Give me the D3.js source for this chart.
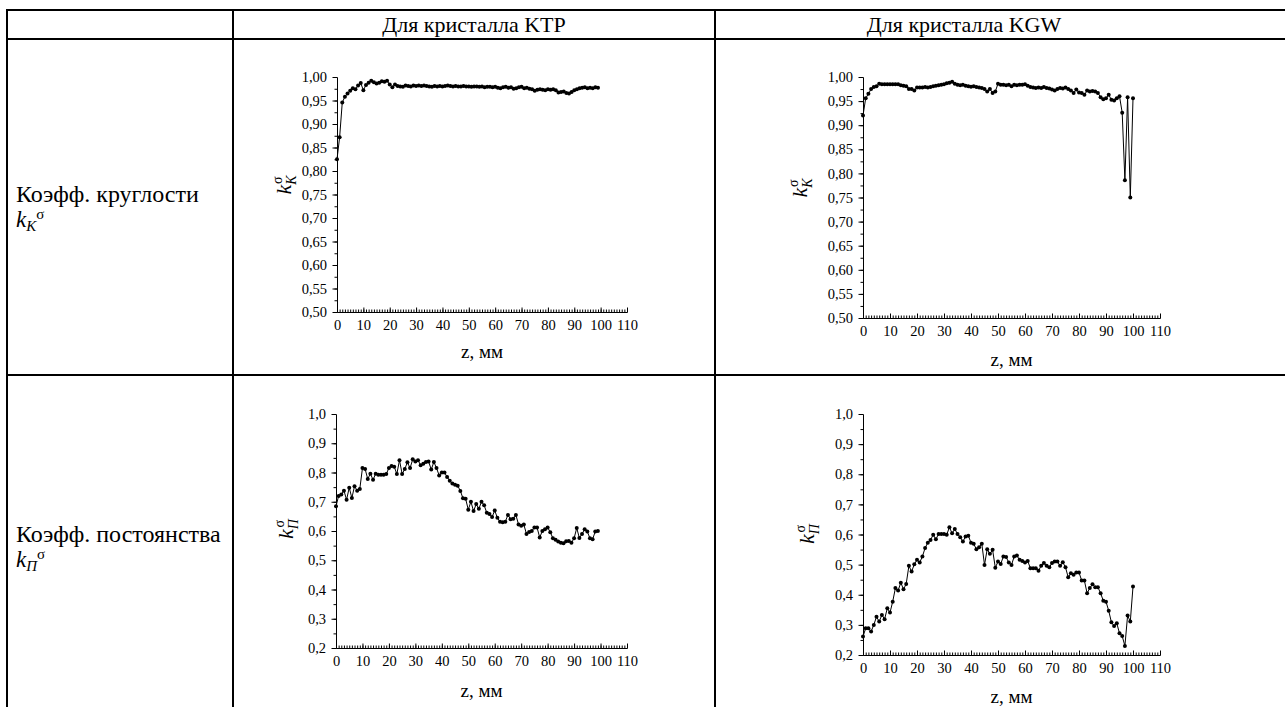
<!DOCTYPE html>
<html>
<head>
<meta charset="utf-8">
<script src="https://cdn.jsdelivr.net/npm/d3@7"></script>
<style>
  body { margin: 0; background: #fff; }
  svg { display: block; }
</style>
</head>
<body>
<script>
// ---- data ----
const columnTitles = ['Для кристалла KTP', 'Для кристалла KGW'];
const xTicks = [0, 10, 20, 30, 40, 50, 60, 70, 80, 90, 100, 110];

// sample grid: one point per mm
const zKTP = d3.range(0, 100);
const zKGW = d3.range(0, 101);

const kK_KTP = [
  0.825, 0.872, 0.946, 0.958, 0.965, 0.971, 0.976, 0.974, 0.982, 0.987,
  0.972, 0.983, 0.988, 0.992, 0.989, 0.986, 0.988, 0.991, 0.990, 0.992,
  0.984, 0.978, 0.984, 0.981, 0.980, 0.979, 0.982, 0.981, 0.980, 0.982,
  0.981, 0.982, 0.981, 0.982, 0.981, 0.980, 0.979, 0.981, 0.980, 0.981,
  0.980, 0.981, 0.982, 0.981, 0.980, 0.981, 0.980, 0.980, 0.981, 0.980,
  0.980, 0.979, 0.980, 0.980, 0.979, 0.980, 0.978, 0.979, 0.979, 0.978,
  0.979, 0.977, 0.976, 0.978, 0.979, 0.977, 0.978, 0.975, 0.976, 0.978,
  0.979, 0.976, 0.977, 0.975, 0.974, 0.971, 0.973, 0.974, 0.973, 0.972,
  0.974, 0.973, 0.974, 0.972, 0.967, 0.968, 0.969, 0.966, 0.965, 0.968,
  0.972, 0.974, 0.976, 0.977, 0.978, 0.976, 0.977, 0.976, 0.978, 0.977
];

const kK_KGW = [
  0.920, 0.956, 0.965, 0.975, 0.979, 0.981, 0.986, 0.985, 0.985, 0.985,
  0.985, 0.985, 0.985, 0.985, 0.983, 0.982, 0.981, 0.975, 0.975, 0.972,
  0.978, 0.978, 0.978, 0.979, 0.978, 0.979, 0.981, 0.982, 0.983, 0.984,
  0.985, 0.987, 0.988, 0.990, 0.986, 0.984, 0.983, 0.984, 0.982, 0.981,
  0.980, 0.981, 0.979, 0.978, 0.977, 0.975, 0.970, 0.975, 0.967, 0.970,
  0.986, 0.984, 0.984, 0.983, 0.984, 0.981, 0.984, 0.983, 0.984, 0.984,
  0.985, 0.982, 0.979, 0.978, 0.977, 0.978, 0.977, 0.979, 0.977, 0.976,
  0.974, 0.972, 0.975, 0.977, 0.976, 0.978, 0.975, 0.972, 0.967, 0.974,
  0.968, 0.967, 0.963, 0.972, 0.970, 0.971, 0.970, 0.967, 0.958, 0.954,
  0.956, 0.963, 0.953, 0.951, 0.956, 0.960, 0.926, 0.786, 0.958, 0.750,
  0.956
];

const kP_KTP = [
  0.685, 0.720, 0.725, 0.738, 0.707, 0.748, 0.713, 0.753, 0.738, 0.744,
  0.815, 0.812, 0.778, 0.796, 0.775, 0.796, 0.792, 0.792, 0.792, 0.795,
  0.815, 0.822, 0.820, 0.795, 0.842, 0.795, 0.812, 0.835, 0.815, 0.845,
  0.838, 0.842, 0.825, 0.830, 0.836, 0.838, 0.810, 0.836, 0.815, 0.790,
  0.800, 0.800, 0.785, 0.772, 0.762, 0.758, 0.755, 0.737, 0.712, 0.710,
  0.673, 0.700, 0.668, 0.692, 0.676, 0.700, 0.688, 0.662, 0.658, 0.648,
  0.670, 0.645, 0.632, 0.630, 0.632, 0.655, 0.640, 0.642, 0.655, 0.622,
  0.618, 0.622, 0.590, 0.597, 0.600, 0.612, 0.612, 0.578, 0.600, 0.606,
  0.612, 0.596, 0.575, 0.570, 0.564, 0.560, 0.558, 0.565, 0.566, 0.560,
  0.575, 0.610, 0.576, 0.590, 0.606, 0.598, 0.575, 0.572, 0.598, 0.600
];

const kP_KGW = [
  0.261, 0.289, 0.289, 0.278, 0.300, 0.327, 0.311, 0.333, 0.319, 0.355,
  0.341, 0.377, 0.422, 0.414, 0.440, 0.418, 0.436, 0.496, 0.477, 0.501,
  0.516, 0.507, 0.527, 0.555, 0.573, 0.582, 0.599, 0.584, 0.602, 0.602,
  0.602, 0.599, 0.624, 0.604, 0.618, 0.602, 0.591, 0.577, 0.593, 0.596,
  0.573, 0.569, 0.551, 0.558, 0.569, 0.499, 0.551, 0.536, 0.549, 0.490,
  0.510, 0.502, 0.527, 0.525, 0.507, 0.499, 0.527, 0.530, 0.516, 0.512,
  0.507, 0.512, 0.488, 0.488, 0.488, 0.480, 0.496, 0.505, 0.496, 0.491,
  0.505, 0.510, 0.510, 0.496, 0.508, 0.491, 0.458, 0.471, 0.466, 0.474,
  0.474, 0.447, 0.447, 0.405, 0.422, 0.435, 0.425, 0.425, 0.405, 0.380,
  0.377, 0.347, 0.309, 0.296, 0.305, 0.272, 0.263, 0.230, 0.331, 0.311,
  0.427
];

const yTicksK = [0.50, 0.55, 0.60, 0.65, 0.70, 0.75, 0.80, 0.85, 0.90, 0.95, 1.00];
const yTicksP = [0.2, 0.3, 0.4, 0.5, 0.6, 0.7, 0.8, 0.9, 1.0];

const FONT = 'Liberation Serif';

// ---- page ----
const width = 1285, height = 707;
const svg = d3.select('body').append('svg')
  .attr('width', width)
  .attr('height', height);

// table grid
const tableLeft = 7, tableRight = 1285;
const colLines = [7, 233, 715];
const rowLines = [10, 39, 375];
const grid = svg.append('g').attr('stroke', '#000').attr('stroke-width', 2);
rowLines.forEach(yy => grid.append('line')
  .attr('x1', tableLeft - 1).attr('x2', tableRight).attr('y1', yy).attr('y2', yy));
colLines.forEach(xx => grid.append('line')
  .attr('x1', xx).attr('x2', xx).attr('y1', rowLines[0] - 1).attr('y2', height));

// column headers
svg.append('text').attr('x', 474).attr('y', 32).attr('text-anchor', 'middle')
  .attr('font-size', '22px').text(columnTitles[0]);
svg.append('text').attr('x', 964).attr('y', 32).attr('text-anchor', 'middle')
  .attr('font-size', '22px').text(columnTitles[1]);

// row labels
function rowLabel(y1, name, sub) {
  svg.append('text').attr('x', 16).attr('y', y1).attr('font-size', '24px').text(name);
  const t = svg.append('text').attr('x', 16).attr('y', y1 + 25).attr('font-size', '23px');
  t.append('tspan').attr('font-style', 'italic').text('k');
  t.append('tspan').attr('font-style', 'italic').attr('font-size', '15px').attr('dy', 4).text(sub);
  t.append('tspan').attr('font-size', '15px').attr('dy', -12).text('σ');
}
rowLabel(202, 'Коэфф. круглости', 'K');
rowLabel(542, 'Коэфф. постоянства', 'П');

const comma = f => d => f(d).replace('.', ',');

const charts = [
  { z: zKTP, v: kK_KTP, left: 337, right: 627, top: 77, bottom: 312,
    yDomain: [0.5, 1.0], yTicks: yTicksK, yMinor: 0.025, fmt: comma(d3.format('.2f')),
    sub: 'K', labX: 291, labY: 185, titleY: 358 },
  { z: zKGW, v: kK_KGW, left: 863, right: 1160, top: 77, bottom: 318,
    yDomain: [0.5, 1.0], yTicks: yTicksK, yMinor: 0.025, fmt: comma(d3.format('.2f')),
    sub: 'K', labX: 807, labY: 188, titleY: 366 },
  { z: zKTP, v: kP_KTP, left: 336, right: 627, top: 414, bottom: 648,
    yDomain: [0.2, 1.0], yTicks: yTicksP, yMinor: 0.05, fmt: comma(d3.format('.1f')),
    sub: 'П', labX: 293, labY: 529, titleY: 697 },
  { z: zKGW, v: kP_KGW, left: 863, right: 1160, top: 414, bottom: 655,
    yDomain: [0.2, 1.0], yTicks: yTicksP, yMinor: 0.05, fmt: comma(d3.format('.1f')),
    sub: 'П', labX: 814, labY: 534, titleY: 703 }
];

function styleAxis(sel) {
  sel.attr('font-size', '14.5px');
  sel.selectAll('path, line').attr('stroke', '#000');
  sel.selectAll('text').attr('fill', '#000');
}

function drawChart(c) {
  const x = d3.scaleLinear().domain([0, 110]).range([c.left, c.right]);
  const y = d3.scaleLinear().domain(c.yDomain).range([c.bottom, c.top]);
  const g = svg.append('g');

  // x axis: minor every 1 mm, major every 10 mm, ticks pointing in
  g.append('g').attr('transform', `translate(0,${c.bottom})`)
    .call(d3.axisBottom(x).tickValues(d3.range(0, 111, 1)).tickSize(-2.5).tickSizeOuter(0).tickFormat(''))
    .call(styleAxis);
  g.append('g').attr('transform', `translate(0,${c.bottom})`)
    .call(d3.axisBottom(x).tickValues(xTicks).tickSize(-4.5).tickSizeOuter(0).tickPadding(8))
    .call(styleAxis);

  // y axis: ticks pointing out
  const minor = d3.range(c.yDomain[0], c.yDomain[1] + 1e-9, c.yMinor);
  g.append('g').attr('transform', `translate(${c.left},0)`)
    .call(d3.axisLeft(y).tickValues(minor).tickSize(2.5).tickSizeOuter(0).tickFormat(''))
    .call(styleAxis);
  g.append('g').attr('transform', `translate(${c.left},0)`)
    .call(d3.axisLeft(y).tickValues(c.yTicks).tickSize(4.5).tickSizeOuter(0).tickPadding(5.5).tickFormat(c.fmt))
    .call(styleAxis);

  // axis titles
  g.append('text').attr('x', (c.left + c.right) / 2).attr('y', c.titleY)
    .attr('text-anchor', 'middle').attr('font-size', '19px').text('z, мм');
  const lab = g.append('text')
    .attr('transform', `translate(${c.labX},${c.labY}) rotate(-90)`)
    .attr('text-anchor', 'middle').attr('font-size', '22px');
  lab.append('tspan').attr('font-style', 'italic').text('k');
  lab.append('tspan').attr('font-style', 'italic').attr('font-size', '14px').attr('dy', 5).text(c.sub);
  lab.append('tspan').attr('font-size', '14px').attr('dx', -8.5).attr('dy', -14).text('σ');

  // series
  const line = d3.line().x((d, i) => x(c.z[i])).y(d => y(d));
  g.append('path').datum(c.v)
    .attr('fill', 'none').attr('stroke', '#000').attr('stroke-width', 1)
    .attr('d', line);
  g.selectAll('circle.pt').data(c.v).enter().append('circle')
    .attr('class', 'pt')
    .attr('cx', (d, i) => x(c.z[i]))
    .attr('cy', d => y(d))
    .attr('r', 2)
    .attr('fill', '#000');
}

charts.forEach(drawChart);

// one serif face for every text, axes included
svg.selectAll('text').style('font-family', FONT);
</script>
</body>
</html>
